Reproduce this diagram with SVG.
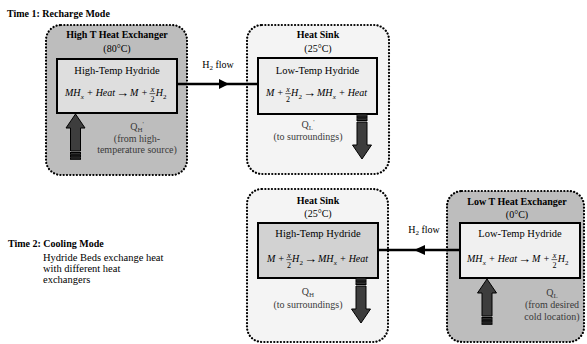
<svg xmlns="http://www.w3.org/2000/svg" xmlns:xlink="http://www.w3.org/1999/xlink" width="587" height="344" viewBox="0 0 587 344">
<style>
text{font-family:"Liberation Serif","Times New Roman",serif;fill:#000}
.b{font-weight:bold;font-size:10px}
.t{font-size:10px}
.l{font-size:10.5px}
.g{font-size:10px;fill:#3a3a3a}
.eq{font-size:10px;font-style:italic}
.sub{font-size:7px}
.fr{font-size:8px}
.r{font-style:normal}
.m{text-anchor:middle}
.arr{font-size:13px;text-anchor:middle}
.outer{stroke:#000;stroke-width:2.2;stroke-dasharray:0.1 3.2;stroke-linecap:round}
.inner{stroke:#000;stroke-width:2}
.bar{stroke:#000;stroke-width:0.6}
.flow{stroke:#000;stroke-width:2.5;fill:none}
.fat{fill:#3d3d3d;stroke:#000;stroke-width:1}
</style>
<defs>
<g id="fatArrow">
<path class="fat" d="M0,0 L9.5,14 L5,14 L5,37 L-5,37 L-5,14 L-9.5,14 Z"/>
<rect class="fat" x="-5" y="38.5" width="10" height="1.8"/>
<rect class="fat" x="-5" y="41.3" width="10" height="1.5"/>
<rect class="fat" x="-5" y="43.8" width="10" height="1.5"/>
</g>
</defs>

<text class="b" x="7" y="17">Time 1: Recharge Mode</text>

<g id="time2-label">
<text class="b" x="8" y="247">Time 2: Cooling Mode</text>
<text class="l" x="43" y="261">Hydride Beds exchange heat</text>
<text class="l" x="43" y="272">with different heat</text>
<text class="l" x="43" y="283">exchangers</text>
</g>

<g id="high-t-exchanger">
<rect class="outer" x="46" y="25" width="141" height="150" rx="15" fill="#bdbdbd"/>
<text class="b m" x="117" y="38">High T Heat Exchanger</text>
<text class="t m" x="117" y="52">(80°C)</text>
<g id="high-temp-hydride-1">
<rect class="inner" x="57" y="59" width="120" height="54" fill="#dedede"/>
<text class="l m" x="117" y="74">High-Temp Hydride</text>
<text class="eq" y="96"><tspan x="65">MH</tspan><tspan class="sub" x="80.8" y="98.5">x</tspan><tspan x="86.4" y="96">+ Heat</tspan><tspan x="130.1">M +</tspan><tspan class="fr" x="150.7" y="92">x</tspan><tspan class="fr r" x="150.5" y="101.5">2</tspan><tspan x="155.7" y="96">H</tspan><tspan class="sub r" x="163" y="98.5">2</tspan></text>
<text class="arr" x="122.6" y="96.5">→</text>
<line class="bar" x1="149.5" y1="93.6" x2="155.3" y2="93.6"/>
</g>
<use xlink:href="#fatArrow" transform="translate(75.5,114)"/>
<text class="g m" x="137" y="130">Q<tspan font-size="7" dy="2">H</tspan><tspan font-size="7" dy="-6">'</tspan></text>
<text class="g m" x="137" y="142">(from high-</text>
<text class="g m" x="137" y="153">temperature source)</text>
</g>

<g id="heat-sink-1">
<rect class="outer" x="247" y="25" width="142" height="149" rx="15" fill="#f4f4f4"/>
<text class="b m" x="318" y="38">Heat Sink</text>
<text class="t m" x="318" y="52">(25°C)</text>
<g id="low-temp-hydride-1">
<rect class="inner" x="258" y="58" width="119" height="56" fill="#eeeeee"/>
<text class="l m" x="317.5" y="74">Low-Temp Hydride</text>
<text class="eq" y="96"><tspan x="266">M +</tspan><tspan class="fr" x="286.3" y="92">x</tspan><tspan class="fr r" x="286.1" y="101.5">2</tspan><tspan x="291.1" y="96">H</tspan><tspan class="sub r" x="298.5" y="98.5">2</tspan><tspan x="317" y="96">MH</tspan><tspan class="sub" x="332.8" y="98.5">x</tspan><tspan x="338.4" y="96">+ Heat</tspan></text>
<text class="arr" x="309.5" y="96.5">→</text>
<line class="bar" x1="285.3" y1="93.6" x2="291" y2="93.6"/>
</g>
<use xlink:href="#fatArrow" transform="translate(362,159) rotate(180)"/>
<text class="g m" x="308" y="128">Q<tspan font-size="7" dy="2">L</tspan><tspan font-size="7" dy="-6">'</tspan></text>
<text class="g m" x="308" y="140">(to surroundings)</text>
</g>

<g id="heat-sink-2">
<rect class="outer" x="247" y="189" width="141" height="153" rx="15" fill="#f4f4f4"/>
<text class="b m" x="318" y="204">Heat Sink</text>
<text class="t m" x="318" y="217">(25°C)</text>
<g id="high-temp-hydride-2">
<rect class="inner" x="258" y="223" width="120" height="55" fill="#d2d2d2"/>
<text class="l m" x="318" y="237">High-Temp Hydride</text>
<text class="eq" y="262"><tspan x="267">M +</tspan><tspan class="fr" x="287.3" y="258">x</tspan><tspan class="fr r" x="287.1" y="267.5">2</tspan><tspan x="292.1" y="262">H</tspan><tspan class="sub r" x="299.5" y="264.5">2</tspan><tspan x="318" y="262">MH</tspan><tspan class="sub" x="333.8" y="264.5">x</tspan><tspan x="339.4" y="262">+ Heat</tspan></text>
<text class="arr" x="310.5" y="262.5">→</text>
<line class="bar" x1="286.3" y1="259.6" x2="292" y2="259.6"/>
</g>
<use xlink:href="#fatArrow" transform="translate(361,323) rotate(180)"/>
<text class="g m" x="308" y="295">Q<tspan font-size="7" dy="2">H</tspan></text>
<text class="g m" x="308" y="308">(to surroundings)</text>
</g>

<g id="low-t-exchanger">
<rect class="outer" x="447" y="191" width="137" height="151" rx="15" fill="#bdbdbd"/>
<text class="b m" x="517" y="205">Low T Heat Exchanger</text>
<text class="t m" x="517" y="218">(0°C)</text>
<g id="low-temp-hydride-2">
<rect class="inner" x="460" y="223" width="120" height="55" fill="#f0f0f0"/>
<text class="l m" x="520" y="237">Low-Temp Hydride</text>
<text class="eq" y="262"><tspan x="467">MH</tspan><tspan class="sub" x="482.8" y="264.5">x</tspan><tspan x="488.4" y="262">+ Heat</tspan><tspan x="532.1">M +</tspan><tspan class="fr" x="552.7" y="258">x</tspan><tspan class="fr r" x="552.5" y="267.5">2</tspan><tspan x="557.7" y="262">H</tspan><tspan class="sub r" x="565" y="264.5">2</tspan></text>
<text class="arr" x="524.6" y="262.5">→</text>
<line class="bar" x1="551.5" y1="259.6" x2="557.3" y2="259.6"/>
</g>
<use xlink:href="#fatArrow" transform="translate(487,279)"/>
<text class="g m" x="552" y="296">Q<tspan font-size="7" dy="2">L</tspan></text>
<text class="g m" x="552" y="308">(from desired</text>
<text class="g m" x="552" y="320">cold location)</text>
</g>

<g id="connectors">
<line class="flow" x1="177" y1="84" x2="258" y2="84"/>
<polygon points="219,79 229,84 219,89" fill="#000"/>
<text class="t m" x="218" y="68">H<tspan font-size="7" dy="2">2</tspan><tspan dy="-2"> flow</tspan></text>
<line class="flow" x1="378" y1="250" x2="460" y2="250"/>
<polygon points="425,245 414,250 425,255" fill="#000"/>
<text class="t m" x="424" y="233">H<tspan font-size="7" dy="2">2</tspan><tspan dy="-2"> flow</tspan></text>
</g>
</svg>
